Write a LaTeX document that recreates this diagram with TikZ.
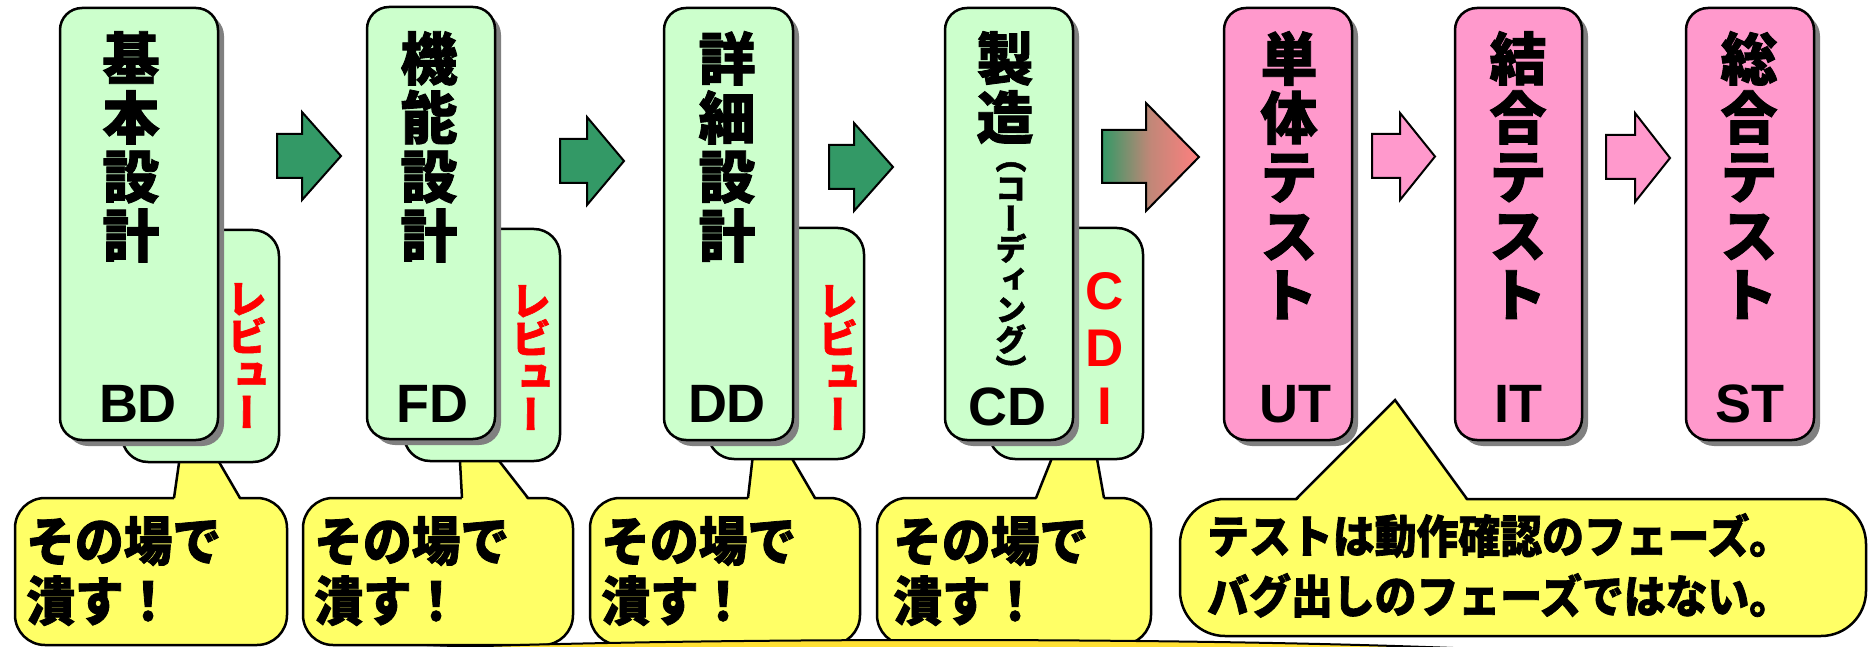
\documentclass[tikz,border=0pt]{standalone}
\usepackage{fontspec}
\usetikzlibrary{shadows}
\newfontfamily\jp{Noto Sans CJK JP}[BoldFeatures={FakeBold=1.5}]
\newfontfamily\jpv{Noto Sans CJK JP}[RawFeature=+vert, BoldFeatures={FakeBold=1.5}]
\newfontfamily\jpc{Noto Sans CJK JP}[FakeStretch=0.92, BoldFeatures={FakeBold=1.5}]
\newfontfamily\lat{Liberation Sans}
\definecolor{lgreen}{HTML}{CCFFCC}
\definecolor{pinkbox}{HTML}{FF99CC}
\definecolor{yel}{HTML}{FFFF66}
\definecolor{agreen}{HTML}{339966}
\definecolor{salmon}{HTML}{FF7F7F}
\definecolor{gold}{HTML}{FFE033}
\tikzset{
  mainbox/.style={draw, line width=2.5pt, rounded corners=22pt, inner sep=0pt,
    minimum height=432pt,
    drop shadow={shadow xshift=6pt, shadow yshift=-6pt, fill=black!50, opacity=1}},
  revbox/.style={draw, line width=2.5pt, rounded corners=26pt, fill=lgreen, inner sep=0pt},
  calbody/.style={draw, line width=2.5pt, rounded corners=30pt, fill=yel, inner sep=0pt},
  tailline/.style={line width=2.5pt, line join=miter},
  barrow/.style={draw, line width=2pt, line join=miter},
  kanji/.style={anchor=north, align=center, inner sep=0pt, font=\jp\bfseries\fontsize{57}{59}\selectfont},
  abbr/.style={anchor=base, inner sep=0pt, font=\lat\bfseries\fontsize{54}{60}\selectfont},
  revtext/.style={anchor=north, align=center, inner sep=0pt, text=red, font=\jpv\bfseries\fontsize{40}{38}\selectfont},
  caltext/.style={anchor=north west, align=left, inner sep=0pt, font=\jpc\bfseries\fontsize{53}{60}\selectfont},
}
\begin{document}
\begin{tikzpicture}[x=1pt, y=-1pt]
\useasboundingbox (0,0) rectangle (1871,647);

% ---- small callouts ----
\foreach \n/\cx/\w/\bl/\ax/\ay/\br in {1/151/272/174/187/407/240, 2/438/270/462/457/407/528, 3/725/270/748/759/402/815, 4/1014/274/1036/1083/380/1104}{
  \node[calbody, minimum width=\w pt, minimum height=147pt] (c\n) at (\cx,571.5) {};
  \coordinate (tl\n) at (\bl,498);
  \coordinate (ta\n) at (\ax,\ay);
  \coordinate (tr\n) at (\br,498);
  \fill[yel] ([yshift=-2.5pt]tl\n) -- (ta\n) -- ([yshift=-2.5pt]tr\n) -- cycle;
  \draw[tailline] (tl\n) -- (ta\n) -- (tr\n);
}

% ---- big callout ----
\node[calbody, rounded corners=45pt, minimum width=686pt, minimum height=137pt] (cb) at (1523,567.5) {};
\coordinate (bl) at (1296,499);
\coordinate (ba) at (1395,400);
\coordinate (br) at (1467,499);
\fill[yel] ([yshift=-2.5pt]bl) -- (ba) -- ([yshift=-2.5pt]br) -- cycle;
\draw[tailline] (bl) -- (ba) -- (br);

% ---- review boxes ----
\node[revbox, minimum width=157pt, minimum height=232pt] (r1) at (200.5,346) {};
\node[revbox, minimum width=156pt, minimum height=232pt] (r2) at (482,345) {};
\node[revbox, minimum width=156pt, minimum height=231pt] (r3) at (786,343.5) {};
\node[revbox, minimum width=154pt, minimum height=231pt] (r4) at (1066,343.5) {};

% ---- main boxes ----
\node[mainbox, fill=lgreen, minimum width=158pt] (b1) at (139,224) {};
\node[mainbox, fill=lgreen, minimum width=128pt] (b2) at (431,223) {};
\node[mainbox, fill=lgreen, minimum width=129pt] (b3) at (728.5,224) {};
\node[mainbox, fill=lgreen, minimum width=128pt] (b4) at (1009,224) {};
\node[mainbox, fill=pinkbox, minimum width=128pt] (b5) at (1288,224) {};
\node[mainbox, fill=pinkbox, minimum width=127pt] (b6) at (1518.5,224) {};
\node[mainbox, fill=pinkbox, minimum width=128pt] (b7) at (1750,224) {};

% ---- block arrows ----
\draw[barrow, fill=agreen] (277,134) -- (302,134) -- (302,112) -- (341,156) -- (302,200) -- (302,178) -- (277,178) -- cycle;
\draw[barrow, fill=agreen] (560,139) -- (587,139) -- (587,117) -- (624,161) -- (587,205) -- (587,183) -- (560,183) -- cycle;
\draw[barrow, fill=agreen] (829,145) -- (854,145) -- (854,123) -- (893,167) -- (854,211) -- (854,189) -- (829,189) -- cycle;
\draw[barrow, left color=agreen, right color=salmon, middle color=salmon!70!agreen] (1102,130) -- (1146,130) -- (1146,103) -- (1199,157) -- (1146,211) -- (1146,183) -- (1102,183) -- cycle;
\draw[barrow, fill=pinkbox] (1372,134) -- (1400,134) -- (1400,113) -- (1435,156.5) -- (1400,200) -- (1400,178) -- (1372,178) -- cycle;
\draw[barrow, fill=pinkbox] (1606,135) -- (1635,135) -- (1635,113) -- (1670,158) -- (1635,202) -- (1635,179) -- (1606,179) -- cycle;

% ---- box texts ----
\node[kanji] (k1) at (131,31) {基\\本\\設\\計};
\node[kanji] (k2) at (429,31) {機\\能\\設\\計};
\node[kanji] (k3) at (727,31) {詳\\細\\設\\計};
\node[kanji] (k4) at (1005,31) {製\\造};
\node[anchor=north, align=center, inner sep=0pt, font=\jpv\bfseries\fontsize{31}{30.3}\selectfont] (k4s) at (1011,162) {（\\コ\\ー\\デ\\ィ\\ン\\グ\\）};
\node[kanji] (k5) at (1289,31) {単\\体\\テ\\ス\\ト};
\node[kanji] (k6) at (1518,31) {結\\合\\テ\\ス\\ト};
\node[kanji] (k7) at (1749,31) {総\\合\\テ\\ス\\ト};

\node[abbr] (a1) at (138,422) {BD};
\node[abbr] (a2) at (432,422) {FD};
\node[abbr] (a3) at (727,422) {DD};
\node[abbr] (a4) at (1007,425) {CD};
\node[abbr] (a5) at (1295,422) {UT};
\node[abbr] (a6) at (1518,422) {IT};
\node[abbr] (a7) at (1750,422) {ST};

\node[revtext] (v1) at (247,283) {レ\\ビ\\ュ\\ー};
\node[revtext] (v2) at (531,285) {レ\\ビ\\ュ\\ー};
\node[revtext] (v3) at (838,285) {レ\\ビ\\ュ\\ー};
\node[anchor=north, align=center, inner sep=0pt, text=red, font=\lat\bfseries\fontsize{53}{57.5}\selectfont] (v4) at (1105,272) {C\\D\\I};

% ---- callout texts ----
\node[caltext] (x1) at (26,516) {その場で\\潰す！};
\node[caltext] (x2) at (314,516) {その場で\\潰す！};
\node[caltext] (x3) at (601,516) {その場で\\潰す！};
\node[caltext] (x4) at (893,516) {その場で\\潰す！};
\node[anchor=north west, align=left, inner sep=0pt, font=\jpc\bfseries\fontsize{45.5}{60}\selectfont] (xb) at (1207,513) {テストは動作確認のフェーズ。\\バグ出しのフェーズではない。};

% ---- cut-off shape at the bottom ----
\draw[line width=2pt, fill=gold] (940,665) ellipse [x radius=700, y radius=25];
\end{tikzpicture}
\end{document}
